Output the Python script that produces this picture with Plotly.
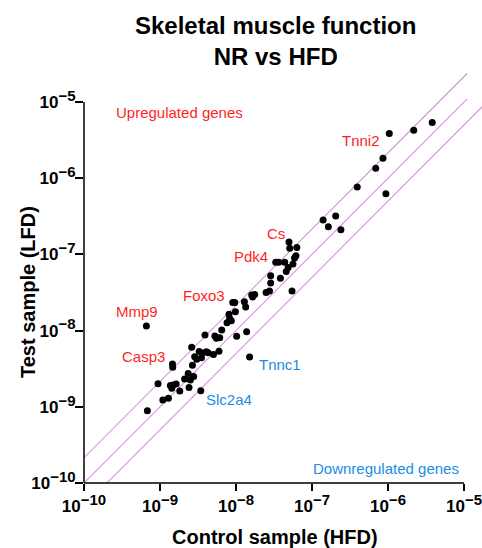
import math
import plotly.graph_objects as go

# ---------------- data ----------------
# Expression values (relative), control sample (HFD) on x, test sample (LFD) on y
control_hfd = [
    3.82e-6, 2.18e-6, 1.04e-6, 8.59e-7, 6.89e-7, 3.94e-7, 9.38e-7, 2.05e-7, 1.40e-7, 1.64e-7,
    2.40e-7, 4.98e-8, 5.09e-8, 6.32e-8, 6.14e-8, 5.89e-8, 3.33e-8, 3.65e-8, 4.38e-8, 5.62e-8,
    4.86e-8, 4.58e-8, 2.86e-8, 3.84e-8, 2.86e-8, 2.49e-8, 2.76e-8, 5.46e-8, 1.76e-8, 1.61e-8,
    1.66e-8, 1.29e-8, 1.34e-8, 9.06e-9, 9.62e-9, 9.82e-9, 8.09e-9, 8.26e-9, 8.69e-9, 7.62e-9,
    6.49e-9, 5.27e-9, 5.52e-9, 6.11e-9, 3.91e-9, 1.02e-8, 1.38e-8, 1.51e-8, 5.97e-9, 5.05e-9,
    4.29e-9, 4.06e-9, 3.59e-9, 3.28e-9, 3.51e-9, 2.86e-9, 3.04e-9, 2.61e-9, 2.67e-9, 2.77e-9,
    2.51e-9, 2.35e-9, 2.41e-9, 2.11e-9, 1.82e-9, 1.63e-9, 1.48e-9, 1.37e-9, 1.43e-9, 1.46e-9,
    1.47e-9, 1.29e-9, 1.09e-9, 9.42e-10, 6.82e-10, 6.62e-10, 3.44e-9,
]
test_lfd = [
    5.38e-6, 4.26e-6, 3.86e-6, 1.83e-6, 1.35e-6, 7.67e-7, 6.27e-7, 3.19e-7, 2.82e-7, 2.31e-7,
    2.11e-7, 1.45e-7, 1.20e-7, 1.23e-7, 9.62e-8, 8.97e-8, 7.87e-8, 7.91e-8, 7.87e-8, 7.48e-8,
    6.73e-8, 5.97e-8, 5.25e-8, 4.85e-8, 4.22e-8, 3.16e-8, 3.31e-8, 3.31e-8, 2.98e-8, 2.93e-8,
    2.76e-8, 2.39e-8, 2.04e-8, 2.34e-8, 2.34e-8, 1.77e-8, 1.64e-8, 1.44e-8, 1.35e-8, 1.27e-8,
    1.02e-8, 8.49e-9, 7.93e-9, 8.07e-9, 8.75e-9, 8.41e-9, 9.68e-9, 4.51e-9, 5.35e-9, 4.85e-9,
    5.13e-9, 5.28e-9, 5.08e-9, 5.32e-9, 4.41e-9, 4.54e-9, 4.20e-9, 6.04e-9, 3.51e-9, 2.50e-9,
    2.25e-9, 2.74e-9, 1.79e-9, 2.32e-9, 1.61e-9, 1.99e-9, 1.93e-9, 1.91e-9, 1.75e-9, 3.65e-9,
    3.30e-9, 1.29e-9, 1.23e-9, 2.01e-9, 8.89e-10, 1.15e-8, 1.62e-9,
]

# labelled genes: name, index of the point in the arrays above, regulation
label_genes = ["Tnni2", "Cs", "Pdk4", "Foxo3", "Mmp9", "Casp3", "Tnnc1", "Slc2a4"]
label_index = [2, 11, 16, 33, 75, 69, 47, 76]
label_regulation = ["up", "up", "up", "up", "up", "up", "down", "down"]

# boundary lines: fold change relative to the identity line
fold_lines = [2.15, 1.0, 0.5]
line_x_start = [1e-10, 1e-10, 1e-10]
line_x_end = [1.1e-5, 1.1e-5, 2.0e-5]

tick_vals = [1e-10, 1e-9, 1e-8, 1e-7, 1e-6, 1e-5]
tick_exponents = ["\u221210", "\u22129", "\u22128", "\u22127", "\u22126", "\u22125"]

title_text = "Skeletal muscle function<br>NR vs HFD"
x_title = "Control sample (HFD)"
y_title = "Test sample (LFD)"

# ---------------- style ----------------
RED = "#ff1f1f"
BLUE = "#1a8de8"
LINE_COLOR = "#d98fe3"
FONT = "Liberation Sans, Arial, sans-serif"

tick_text = ['10<sup><span style="font-size:15px">%s</span></sup>' % e for e in tick_exponents]

label_style = {
    "Tnni2": dict(xanchor="right", xshift=-7, yshift=-7),
    "Cs": dict(xanchor="right", xshift=-2, yshift=9),
    "Pdk4": dict(xanchor="right", xshift=-6, yshift=6),
    "Foxo3": dict(xanchor="right", xshift=-6, yshift=7),
    "Mmp9": dict(xanchor="center", xshift=-9, yshift=14),
    "Casp3": dict(xanchor="right", xshift=-5, yshift=7),
    "Tnnc1": dict(xanchor="left", xshift=7, yshift=-8),
    "Slc2a4": dict(xanchor="left", xshift=3, yshift=-9),
}

W, H = 482, 548
ML, MR, MT, MB = 84, 0, 71, 65
PW, PH = W - ML - MR, H - MT - MB
DEC_X, DEC_Y = 76.0, 76.2  # pixels per decade
x_range = [-10, -10 + PW / DEC_X]
y_range = [-10, -10 + PH / DEC_Y]


def px_to_paper(px, py):
    return (px - ML) / PW, (H - MB - py) / PH


fig = go.Figure()

for f, xs, xe in zip(fold_lines, line_x_start, line_x_end):
    fig.add_trace(go.Scatter(
        x=[xs, xe], y=[xs * f, xe * f], mode="lines",
        line=dict(color=LINE_COLOR, width=1.1), hoverinfo="skip", showlegend=False,
    ))

fig.add_trace(go.Scatter(
    x=control_hfd, y=test_lfd, mode="markers",
    marker=dict(color="black", size=7, line=dict(width=0)),
    showlegend=False, cliponaxis=False,
))

annotations = []
for name, idx, reg in zip(label_genes, label_index, label_regulation):
    st = label_style[name]
    annotations.append(dict(
        x=math.log10(control_hfd[idx]), y=math.log10(test_lfd[idx]),
        xref="x", yref="y", text=name, showarrow=False,
        xanchor=st["xanchor"], yanchor="middle",
        xshift=st["xshift"], yshift=st["yshift"],
        font=dict(family=FONT, size=15, color=RED if reg == "up" else BLUE),
    ))

ux, uy = px_to_paper(179, 113)
annotations.append(dict(x=ux, y=uy, xref="paper", yref="paper", text="Upregulated genes",
                        showarrow=False, xanchor="center", yanchor="middle",
                        font=dict(family=FONT, size=15, color=RED)))
dx, dy = px_to_paper(386, 468)
annotations.append(dict(x=dx, y=dy, xref="paper", yref="paper", text="Downregulated genes",
                        showarrow=False, xanchor="center", yanchor="middle",
                        font=dict(family=FONT, size=15, color=BLUE)))

# title and axis titles
tx, ty = px_to_paper(275, 10)
annotations.append(dict(x=tx, y=ty, xref="paper", yref="paper", text=title_text,
                        showarrow=False, xanchor="center", yanchor="top",
                        font=dict(family=FONT, size=24, color="black", weight="bold")))
xtx, xty = px_to_paper(274.5, 537)
annotations.append(dict(x=xtx, y=xty, xref="paper", yref="paper", text=x_title,
                        showarrow=False, xanchor="center", yanchor="middle",
                        font=dict(family=FONT, size=20, color="black", weight="bold")))
ytx, yty = px_to_paper(28, 292)
annotations.append(dict(x=ytx, y=yty, xref="paper", yref="paper", text=y_title,
                        showarrow=False, xanchor="center", yanchor="middle", textangle=-90,
                        font=dict(family=FONT, size=20, color="black", weight="bold")))

axis_common = dict(
    type="log", tickmode="array", tickvals=tick_vals, ticktext=tick_text,
    ticks="outside", tickwidth=1.5, tickcolor="black",
    showgrid=False, zeroline=False, showline=False, ticklabeloverflow="allow",
    tickfont=dict(family=FONT, size=17, color="black", weight="bold"),
)

fig.update_layout(
    width=W, height=H,
    margin=dict(l=ML, r=MR, t=MT, b=MB, autoexpand=False),
    paper_bgcolor="white", plot_bgcolor="white",
    xaxis=dict(range=x_range, ticklen=7, ticklabelstandoff=1, **axis_common),
    yaxis=dict(range=y_range, ticklen=8, ticklabelstandoff=-4, **axis_common),
    annotations=annotations,
    shapes=[
        dict(type="line", xref="x", yref="paper", x0=1e-10, x1=1e-5, y0=0, y1=0,
             line=dict(color="black", width=1.5)),
        dict(type="line", xref="paper", yref="y", x0=0, x1=0, y0=1e-10, y1=1e-5,
             line=dict(color="black", width=1.5)),
    ],
)

fig.write_html("out.html")
